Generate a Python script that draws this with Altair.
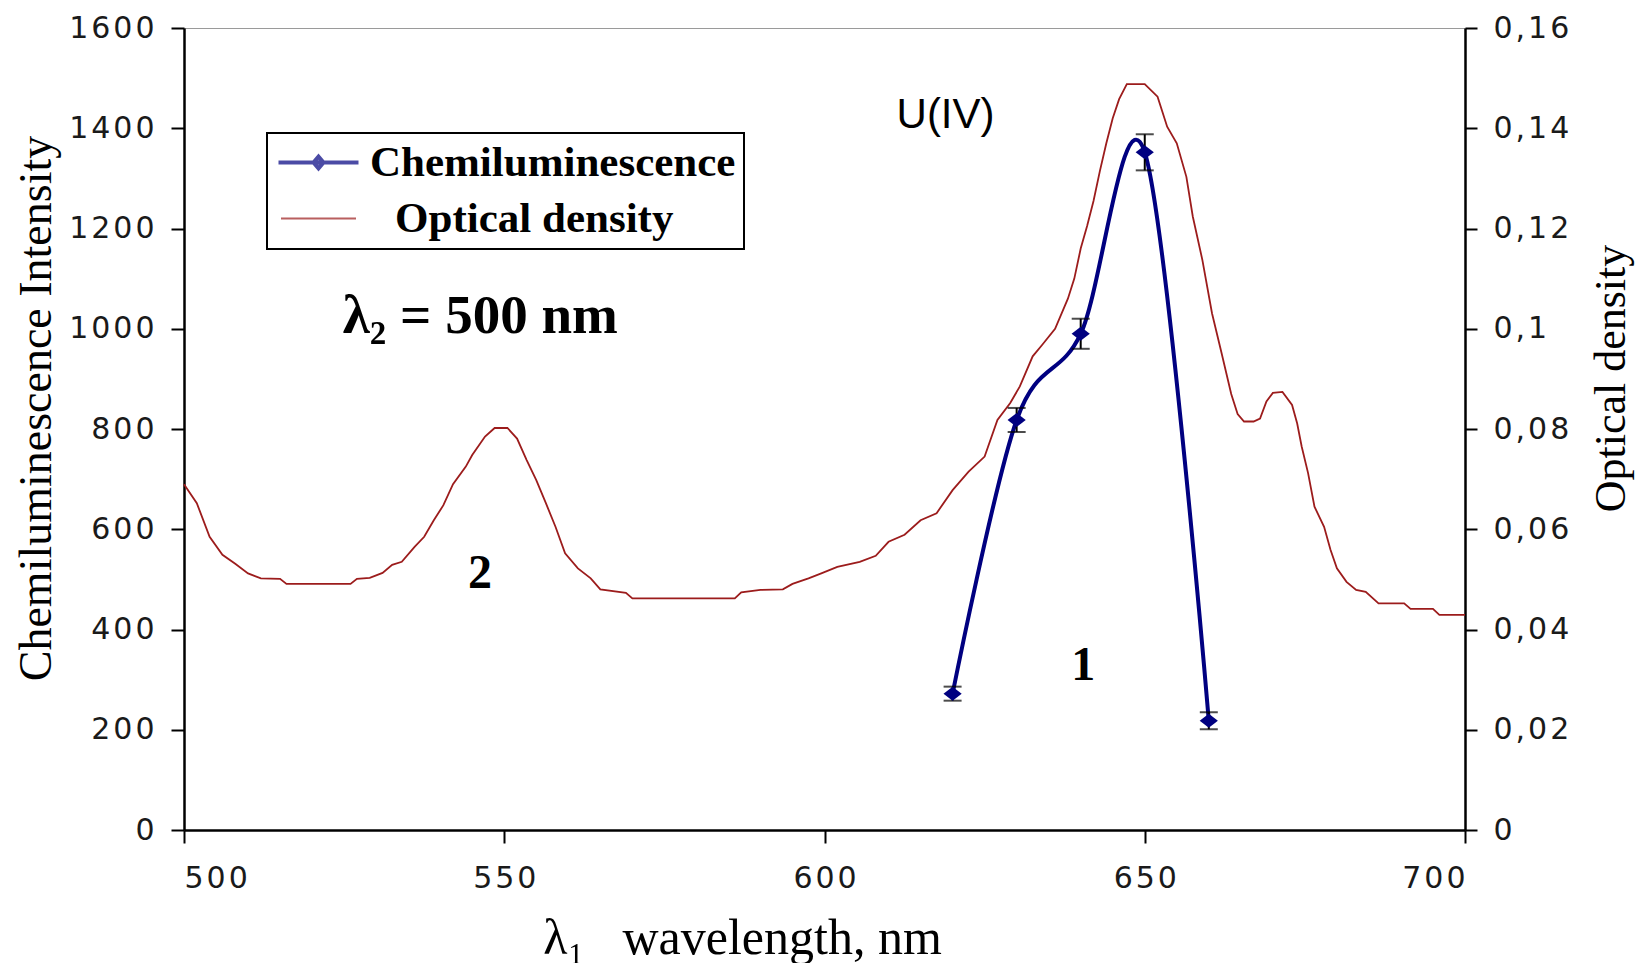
import altair as alt
import pandas as pd

# ---------------- data ----------------
WL_TICKS = [500, 550, 600, 650, 700]
CL_TICKS = [0, 200, 400, 600, 800, 1000, 1200, 1400, 1600]
OD_TICKS = [0, 0.02, 0.04, 0.06, 0.08, 0.10, 0.12, 0.14, 0.16]

SERIES = ["Chemiluminescence", "Optical density"]

chem_wl = [620, 630, 640, 650, 660]
chem_val = [272, 818, 990, 1352, 218]
chem_err = [14, 24, 30, 36, 17]

od_wl = [500, 502, 504, 506, 508, 510, 512, 515, 516, 526, 527, 529, 531, 532.5, 534,
         536, 537.5, 539, 540.5, 542, 544, 545, 547, 548.5, 550.5, 552, 553.5, 555,
         556.5, 558, 559.5, 561.5, 563.5, 565, 569, 570, 586, 587, 590, 593.5, 595,
         597.5, 599.5, 602, 605.5, 608, 610, 612.5, 615, 617.5, 620, 622.5, 625, 627,
         629, 630.5, 632.5, 634, 636, 638, 639, 640, 641, 642, 643, 644, 645, 646, 647.2,
         650, 652, 653.5, 655, 656.5, 657.5, 659, 660.5, 662, 663.5, 664.5, 665.5, 667,
         668, 669, 670, 671.5, 673, 673.8, 674.5, 675.5, 676.5, 678, 679, 680, 681.5,
         683, 684.5, 686.5, 690.5, 691.5, 695, 696, 700]
od_val = [0.0690, 0.0652, 0.0585, 0.0549, 0.0531, 0.0512, 0.0502, 0.0501, 0.0491, 0.0491,
          0.0501, 0.0503, 0.0513, 0.0529, 0.0535, 0.0565, 0.0585, 0.0618, 0.0648, 0.0690,
          0.0725, 0.0748, 0.0785, 0.0802, 0.0802, 0.0781, 0.0738, 0.0698, 0.0652, 0.0605,
          0.0552, 0.0522, 0.0502, 0.0480, 0.0473, 0.0462, 0.0462, 0.0474, 0.0479, 0.0480,
          0.0491, 0.0502, 0.0512, 0.0525, 0.0535, 0.0547, 0.0575, 0.0589, 0.0618, 0.0632,
          0.0678, 0.0715, 0.0745, 0.0818, 0.0852, 0.0885, 0.0945, 0.0968, 0.1000, 0.1060,
          0.1100, 0.1160, 0.1205, 0.1255, 0.1315, 0.1370, 0.1420, 0.1458, 0.1488,
          0.1488, 0.1463, 0.1403,
          0.1370, 0.1303, 0.1224, 0.1137, 0.1031, 0.0951, 0.0870, 0.0830, 0.0815, 0.0815,
          0.0821, 0.0855, 0.0872, 0.0874, 0.0848, 0.0811, 0.0765, 0.0712, 0.0645, 0.0605,
          0.0559, 0.0522, 0.0495, 0.0479, 0.0475, 0.0452, 0.0452, 0.0441, 0.0441, 0.0429,
          0.0429]

# annotations (data coordinates: wavelength, left-axis intensity)
ann_sans_text = ["U(IV)"]
ann_sans_x = [618.9]
ann_sans_y = [1400]

ann_big_text = ["λ₂ = 500 nm"]
ann_big_x = [524.8]
ann_big_y = [991]

ann_num_text = ["2", "1"]
ann_num_x = [546.2, 640.4]
ann_num_y = [483, 299]

# ---------------- styling ----------------
NAVY = "#000080"
RED = "#9C1C1C"
NB = "\u00a0"
HAIR = "\u200a"
ZW = "\u200b"  # zero-width char so that the indent is not trimmed
SERIF = "Liberation Serif"
SANS = "DejaVu Sans"

# legend entry texts (the second one indented as in the original legend)
LEGEND_LABELS = [SERIES[0], ZW + NB + NB + HAIR + SERIES[1]]

chem_df = pd.DataFrame({
    "wl": chem_wl,
    "val": chem_val,
    "lo": [v - e for v, e in zip(chem_val, chem_err)],
    "hi": [v + e for v, e in zip(chem_val, chem_err)],
})
od_df = pd.DataFrame({"wl": od_wl, "od": od_val})
sans_df = pd.DataFrame({"x": ann_sans_x, "y": ann_sans_y, "t": ann_sans_text})
big_df = pd.DataFrame({"x": ann_big_x, "y": ann_big_y, "t": ann_big_text})
num_df = pd.DataFrame({"x": ann_num_x, "y": ann_num_y, "t": ann_num_text})
legend_df = pd.DataFrame({"series": LEGEND_LABELS})

spaced = f"join(split(datum.label, ''), '{HAIR}')"

x_scale = alt.Scale(domain=[500, 700], nice=False, zero=False)
x_axis = alt.Axis(
    values=WL_TICKS, format="d", labelExpr=spaced,
    title=f"λ₁{NB}{NB}{NB}wavelength, nm",
    titleX=558, titleY=123, titleBaseline="alphabetic", titleAlign="center",
    titleFontSize=50, labelPadding=20, tickSize=13,
)
yl_scale = alt.Scale(domain=[0, 1600], nice=False, zero=True)
yl_axis = alt.Axis(
    orient="left", values=CL_TICKS, format="d", labelExpr=spaced,
    title="Chemiluminescence Intensity",
    titleX=-148, titleY=380, titleAngle=270, titleBaseline="middle", titleAlign="center",
    titleFontSize=46, labelPadding=17, tickSize=13,
)
yr_scale = alt.Scale(domain=[0, 0.16], nice=False, zero=True)
yr_axis = alt.Axis(
    orient="right", values=OD_TICKS,
    labelExpr=f"join(split(replace(format(datum.value, '.2~f'), '.', ','), ''), '{HAIR}')",
    title="Optical density",
    titleX=146, titleY=350, titleAngle=270, titleBaseline="middle", titleAlign="center",
    titleFontSize=44, labelPadding=16, tickSize=12,
)


def X(field):
    return alt.X(f"{field}:Q", scale=x_scale, axis=x_axis)


def YL(field):
    return alt.Y(f"{field}:Q", scale=yl_scale, axis=yl_axis)


DIAMOND = "M-1.3,0L0,-1L1.3,0L0,1Z"
LEG_CHEM = "M-8,0H8M-1,0L0,-1.2L1,0L0,1.2Z"
LEG_OD = "M-7.5,0H7.5"

od_line = alt.Chart(od_df).mark_line(color=RED, strokeWidth=1.8).encode(
    x=X("wl"),
    y=alt.Y("od:Q", scale=yr_scale, axis=yr_axis),
)

chem_line = alt.Chart(chem_df).mark_line(
    color=NAVY, strokeWidth=4, interpolate="cardinal"
).encode(x=X("wl"), y=YL("val"))

err_rule = alt.Chart(chem_df).mark_rule(color="black", strokeWidth=2).encode(
    x=X("wl"), y=YL("lo"), y2="hi"
)
cap_lo = alt.Chart(chem_df).mark_tick(
    orient="horizontal", color="black", thickness=2, size=18
).encode(x=X("wl"), y=YL("lo"))
cap_hi = alt.Chart(chem_df).mark_tick(
    orient="horizontal", color="black", thickness=2, size=18
).encode(x=X("wl"), y=YL("hi"))

points = alt.Chart(chem_df).mark_point(
    filled=True, shape=DIAMOND, size=196, color=NAVY, opacity=1
).encode(x=X("wl"), y=YL("val"))

sans_text = alt.Chart(sans_df).mark_text(
    font="Liberation Sans", fontSize=42, color="black", align="center", baseline="alphabetic"
).encode(x=X("x"), y=YL("y"), text="t:N")
big_text = alt.Chart(big_df).mark_text(
    font=SERIF, fontSize=55, fontWeight="bold", color="black", align="left", baseline="alphabetic"
).encode(x=X("x"), y=YL("y"), text="t:N")
num_text = alt.Chart(num_df).mark_text(
    font=SERIF, fontSize=48, fontWeight="bold", color="black", align="center", baseline="alphabetic"
).encode(x=X("x"), y=YL("y"), text="t:N")

leg = alt.Legend(
    title=None, orient="none", legendX=83, legendY=105, direction="vertical",
    fillColor="white", strokeColor="black", padding=8, rowPadding=12,
    labelFont=SERIF, labelFontSize=43, labelFontWeight="bold", labelColor="black",
    labelOffset=30, symbolOffset=22, symbolSize=100, labelLimit=0,
)
legend_layer = alt.Chart(legend_df).transform_filter("false").mark_point().encode(
    fill=alt.Fill("series:N", scale=alt.Scale(domain=LEGEND_LABELS, range=[NAVY, RED]), legend=leg),
    stroke=alt.Stroke("series:N", scale=alt.Scale(domain=LEGEND_LABELS, range=[NAVY, RED]), legend=leg),
    shape=alt.Shape("series:N", scale=alt.Scale(domain=LEGEND_LABELS, range=[LEG_CHEM, LEG_OD]), legend=leg),
    strokeWidth=alt.StrokeWidth("series:O", scale=alt.Scale(domain=LEGEND_LABELS, range=[4, 1.8]), legend=leg),
)

left_group = alt.layer(
    chem_line, err_rule, cap_lo, cap_hi, points, sans_text, big_text, num_text, legend_layer
)

chart = alt.layer(od_line, left_group).resolve_scale(y="independent").properties(
    width=1281,
    height=802,
    padding={"left": 176, "top": 20, "right": 170, "bottom": 133},
    autosize=alt.AutoSizeParams(type="none"),
    background="white",
).configure_view(
    stroke="#9a9a9a", strokeWidth=1
).configure_axis(
    grid=False, domainColor="black", domainWidth=2.5, tickColor="black", tickWidth=2,
    labelFont=SANS, labelFontSize=30, labelColor="#1a1a1a",
    titleFont=SERIF, titleFontWeight="normal", titleColor="black",
).configure_legend(
    strokeWidth=2
)

chart.save("out.html", embed_options={"renderer": "svg", "actions": False})
